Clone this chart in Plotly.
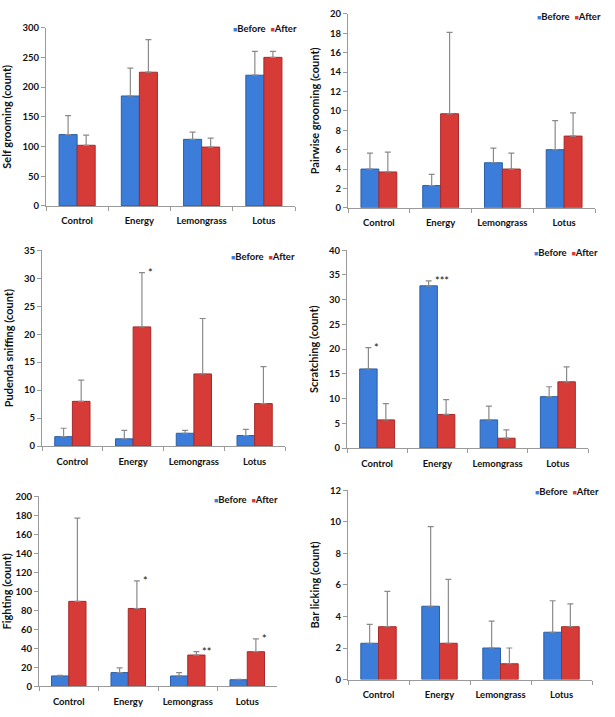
import plotly.graph_objects as go

categories = ["Control", "Energy", "Lemongrass", "Lotus"]

# Panel 1: Self grooming
self_before = [120, 185, 112, 220]
self_after = [102, 225, 99, 250]
self_before_err = [32, 47, 12, 40]
self_after_err = [17, 55, 15, 10]

# Panel 2: Pairwise grooming
pair_before = [4.0, 2.3, 4.65, 6.0]
pair_after = [3.7, 9.7, 4.0, 7.4]
pair_before_err = [1.65, 1.15, 1.5, 3.0]
pair_after_err = [2.05, 8.4, 1.65, 2.4]

# Panel 3: Pudenda sniffing
pud_before = [1.7, 1.3, 2.3, 1.9]
pud_after = [8.0, 21.3, 12.9, 7.6]
pud_before_err = [1.5, 1.5, 0.5, 1.1]
pud_after_err = [3.8, 9.7, 9.9, 6.6]

# Panel 4: Scratching
scr_before = [16.0, 32.8, 5.7, 10.4]
scr_after = [5.7, 6.8, 2.0, 13.4]
scr_before_err = [4.3, 1.0, 2.8, 2.0]
scr_after_err = [3.3, 3.0, 1.7, 3.0]

# Panel 5: Fighting
fig_before = [11, 14.5, 11, 7]
fig_after = [89.5, 82, 33, 36.5]
fig_before_err = [0.5, 5, 3.5, 0.5]
fig_after_err = [87.5, 29, 3.5, 13.5]

# Panel 6: Bar licking
bar_before = [2.3, 4.65, 2.0, 3.0]
bar_after = [3.35, 2.3, 1.0, 3.35]
bar_before_err = [1.2, 5.05, 1.7, 2.0]
bar_after_err = [2.25, 4.05, 1.0, 1.45]

BLUE = "#3B7DD8"
BLUE_EDGE = "#2A5FA8"
RED = "#D63B38"
RED_EDGE = "#A82A28"
FONT = "Lato"

panels = [
    dict(title="Self grooming (count)", before=self_before, after=self_after,
         be=self_before_err, ae=self_after_err, rng=[0, 300], dtick=50,
         xd=[46/615, 295/615], yd=[514/717, 695/717], leg=(231, 23), stars=[]),
    dict(title="Pairwise grooming (count)", before=pair_before, after=pair_after,
         be=pair_before_err, ae=pair_after_err, rng=[0, 20], dtick=2,
         xd=[348/615, 595/615], yd=[512/717, 709/717], leg=(535, 11), stars=[]),
    dict(title="Pudenda sniffing (count)", before=pud_before, after=pud_after,
         be=pud_before_err, ae=pud_after_err, rng=[0, 35], dtick=5,
         xd=[42/615, 285/615], yd=[270/717, 469/717], leg=(229, 254),
         stars=[(1, "after", "*")]),
    dict(title="Scratching (count)", before=scr_before, after=scr_after,
         be=scr_before_err, ae=scr_after_err, rng=[0, 40], dtick=5,
         xd=[347/615, 588/615], yd=[268/717, 469/717], leg=(532, 250),
         stars=[(0, "before", "*"), (1, "before", "***")]),
    dict(title="Fighting (count)", before=fig_before, after=fig_after,
         be=fig_before_err, ae=fig_after_err, rng=[0, 200], dtick=20,
         xd=[39/615, 277/615], yd=[26/717, 219/717], leg=(212, 501),
         stars=[(1, "after", "*"), (2, "after", "**"), (3, "after", "*")]),
    dict(title="Bar licking (count)", before=bar_before, after=bar_after,
         be=bar_before_err, ae=bar_after_err, rng=[0, 12], dtick=2,
         xd=[348/615, 592/615], yd=[33/717, 225/717], leg=(533, 493), stars=[]),
]

fig = go.Figure()
annotations = []
layout = {}

for i, p in enumerate(panels, start=1):
    xa = "x" if i == 1 else f"x{i}"
    ya = "y" if i == 1 else f"y{i}"
    for name, vals, errs, col, edge in [
        ("Before", p["before"], p["be"], BLUE, BLUE_EDGE),
        ("After", p["after"], p["ae"], RED, RED_EDGE),
    ]:
        fig.add_trace(go.Bar(
            x=categories, y=vals, name=name, xaxis=xa, yaxis=ya,
            marker=dict(color=col, line=dict(color=edge, width=1)),
            error_y=dict(type="data", array=errs, arrayminus=[0]*4,
                         symmetric=False, color="#8A8A8A", thickness=1.2, width=3),
            showlegend=False,
        ))
    xkey = "xaxis" if i == 1 else f"xaxis{i}"
    ykey = "yaxis" if i == 1 else f"yaxis{i}"
    layout[xkey] = dict(
        domain=p["xd"], anchor=ya, showline=True, linecolor="#9A9A9A", linewidth=1,
        ticks="outside", tickson="boundaries", ticklen=4, tickcolor="#9A9A9A",
        tickangle=0, ticklabelstandoff=6,
        tickfont=dict(family=FONT, size=9.5, color="#111111", weight="bold"), showgrid=False,
        zeroline=False, fixedrange=True,
    )
    layout[ykey] = dict(
        domain=p["yd"], anchor=xa, range=p["rng"], dtick=p["dtick"],
        showline=True, linecolor="#9A9A9A", linewidth=1, ticks="outside",
        ticklen=4, tickcolor="#9A9A9A", showgrid=False, zeroline=False,
        tickfont=dict(family=FONT, size=9.5, color="#111111", weight="bold"),
        title=dict(text=f"<b>{p['title']}</b>", font=dict(family=FONT, size=11, color="#111111"),
                   standoff=8),
        fixedrange=True,
    )
    # legend drawn as annotations
    lx, ly = p["leg"]
    annotations.append(dict(
        xref="paper", yref="paper", x=lx/615, y=1 - ly/717, xanchor="left", yanchor="middle",
        text=(f"<span style='color:{BLUE};font-size:7px'>■</span><b>Before</b>"
              f"  <span style='color:{RED};font-size:7px'>■</span><b>After</b>"),
        showarrow=False, font=dict(family=FONT, size=9.5, color="#111111"),
    ))
    for (ci, which, txt) in p["stars"]:
        if which == "after":
            xv = ci + 0.145
            yv = p["after"][ci] + p["ae"][ci]
        else:
            xv = ci - 0.145
            yv = p["before"][ci] + p["be"][ci]
        annotations.append(dict(
            xref=xa, yref=ya, x=xv, y=yv, xanchor="left", yanchor="middle",
            xshift=4, yshift=0, text=txt, showarrow=False,
            font=dict(family=FONT, size=11, color="#111111"),
        ))

fig.update_layout(
    width=615, height=717, margin=dict(l=0, r=0, t=0, b=0),
    paper_bgcolor="white", plot_bgcolor="white",
    barmode="group", bargap=0.42, bargroupgap=0,
    annotations=annotations, showlegend=False,
    **layout,
)

fig.write_html("out.html", config={"displayModeBar": False},
               post_script="document.body.style.margin='0px';")
